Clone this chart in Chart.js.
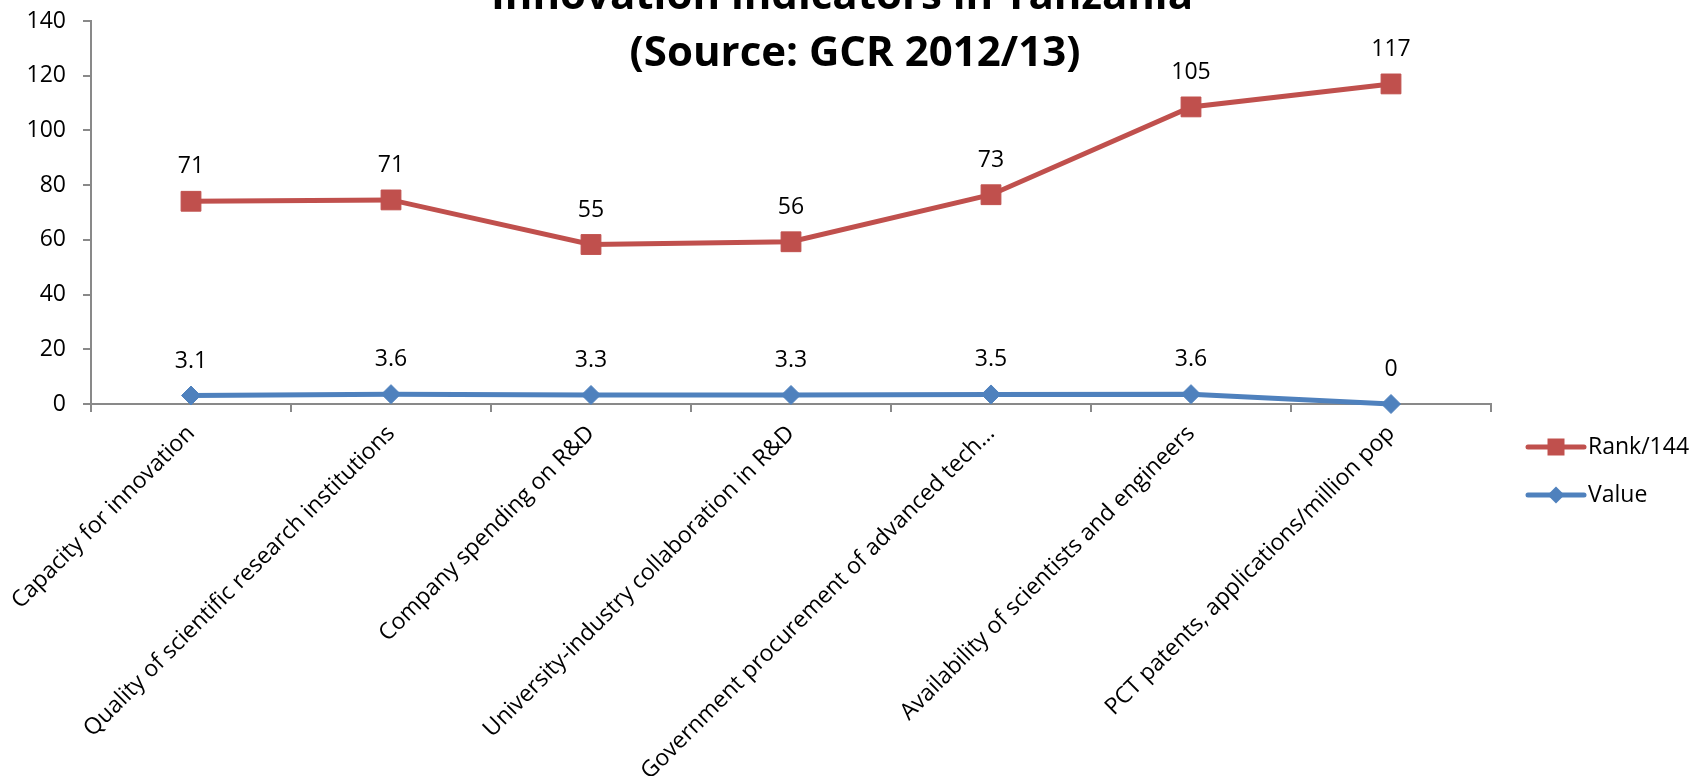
<!DOCTYPE html>
<html>
<head>
<meta charset="utf-8">
<script src="https://cdn.jsdelivr.net/npm/chart.js@4.4.0/dist/chart.umd.min.js"></script>
<style>
  html, body { margin: 0; padding: 0; background: #fff; }
  #wrap { width: 1694px; height: 776px; position: relative; }
</style>
</head>
<body>
<div id="wrap"><canvas id="chart" width="1694" height="776"></canvas></div>
<script>
const categories = [
  "Capacity for innovation",
  "Quality of scientific research institutions",
  "Company spending on R&D",
  "University-industry collaboration in R&D",
  "Government procurement of advanced tech\u2026",
  "Availability of scientists and engineers",
  "PCT patents, applications/million pop"
];
const valueScores = [3.1, 3.6, 3.3, 3.3, 3.5, 3.6, 0];
const rankOf144 = [71, 71, 55, 56, 73, 105, 117];
const yMin = 0, yMax = 140, yStep = 20;
const titleLines = ["Innovation indicators in Tanzania", "(Source: GCR 2012/13)"];

const RED = "#C0504D";
const BLUE = "#4F81BD";
const AXIS = "#898989";
const FONT = "'Open Sans', 'Noto Sans', sans-serif";
const TEXT_SIZE = 23;

// number above every point, taken from the dataset value (not the stacked total)
const pointLabels = {
  id: "pointLabels",
  afterDatasetsDraw(chart) {
    const ctx = chart.ctx;
    ctx.save();
    ctx.font = TEXT_SIZE + "px " + FONT;
    ctx.fillStyle = "#000";
    ctx.textAlign = "center";
    ctx.textBaseline = "alphabetic";
    chart.data.datasets.forEach((ds, i) => {
      chart.getDatasetMeta(i).data.forEach((pt, j) => {
        ctx.fillText(String(ds.data[j]), pt.x, pt.y - 28);
      });
    });
    ctx.restore();
  }
};

// two-line bold title laid over the top of the plot
const overlayTitle = {
  id: "overlayTitle",
  afterDraw(chart) {
    const ctx = chart.ctx;
    ctx.save();
    ctx.font = "bold 42px " + FONT;
    ctx.fillStyle = "#000";
    ctx.textAlign = "center";
    ctx.textBaseline = "alphabetic";
    ctx.fillText(titleLines[0], 842, 9);
    ctx.fillText(titleLines[1], 855, 66);
    ctx.restore();
  }
};

// legend to the right, Rank/144 listed first like the stacked order
const sideLegend = {
  id: "sideLegend",
  afterDraw(chart) {
    const ctx = chart.ctx;
    const items = [chart.data.datasets[1], chart.data.datasets[0]];
    const x0 = 1528, x1 = 1584, rowY = [447, 495];
    ctx.save();
    items.forEach((ds, k) => {
      const y = rowY[k];
      ctx.strokeStyle = ds.borderColor;
      ctx.lineWidth = 5;
      ctx.lineCap = "round";
      ctx.beginPath();
      ctx.moveTo(x0, y);
      ctx.lineTo(x1, y);
      ctx.stroke();
      ctx.fillStyle = ds.pointBackgroundColor;
      const cx = (x0 + x1) / 2;
      ctx.beginPath();
      if (ds.pointStyle === "rect") {
        ctx.rect(cx - 8.5, y - 8.5, 17, 17);
      } else {
        ctx.moveTo(cx - 8.5, y);
        ctx.lineTo(cx, y - 8.5);
        ctx.lineTo(cx + 8.5, y);
        ctx.lineTo(cx, y + 8.5);
        ctx.closePath();
      }
      ctx.fill();
      ctx.fillStyle = "#000";
      ctx.font = TEXT_SIZE + "px " + FONT;
      ctx.textAlign = "left";
      ctx.textBaseline = "middle";
      ctx.fillText(ds.label, x1 + 4, y);
    });
    ctx.restore();
  }
};

new Chart(document.getElementById("chart"), {
  type: "line",
  data: {
    labels: categories,
    datasets: [
      {
        label: "Value",
        data: valueScores,
        borderColor: BLUE,
        backgroundColor: BLUE,
        pointBackgroundColor: BLUE,
        pointBorderColor: BLUE,
        pointStyle: "rectRot",
        pointRadius: 9.5,
        pointBorderWidth: 1,
        borderWidth: 5,
        tension: 0,
        fill: false,
        clip: false
      },
      {
        label: "Rank/144",
        data: rankOf144,
        borderColor: RED,
        backgroundColor: RED,
        pointBackgroundColor: RED,
        pointBorderColor: RED,
        pointStyle: "rect",
        pointRadius: 14,
        pointBorderWidth: 1,
        borderWidth: 5,
        tension: 0,
        fill: false,
        clip: false
      }
    ]
  },
  options: {
    responsive: false,
    animation: false,
    devicePixelRatio: 1,
    layout: { autoPadding: false, padding: { top: 21, right: 203, left: 0, bottom: 0 } },
    plugins: {
      legend: { display: false },
      title: { display: false },
      tooltip: { enabled: false }
    },
    scales: {
      x: {
        type: "category",
        offset: true,
        grid: { offset: true, drawOnChartArea: false, drawTicks: true, tickLength: 8, color: AXIS, lineWidth: 2 },
        border: { color: AXIS, width: 2 },
        ticks: {
          autoSkip: false, minRotation: 45, maxRotation: 45, padding: 8,
          color: "#000", font: { family: FONT, size: TEXT_SIZE }
        },
        afterFit(s) {
          s.height = 372;
          s.paddingLeft = 0;
          s.paddingRight = 0;
        }
      },
      y: {
        stacked: true,
        min: yMin,
        max: yMax,
        grid: { drawOnChartArea: false, drawTicks: true, tickLength: 8, color: AXIS, lineWidth: 2 },
        border: { color: AXIS, width: 2 },
        ticks: {
          stepSize: yStep, padding: 17,
          color: "#000", font: { family: FONT, size: TEXT_SIZE }
        },
        afterFit(s) {
          s.width = 91;
          // keep the plot top pinned to the layout padding
          s.paddingTop = 0;
          s.paddingBottom = 0;
        }
      }
    }
  },
  plugins: [pointLabels, overlayTitle, sideLegend]
});
</script>
</body>
</html>
